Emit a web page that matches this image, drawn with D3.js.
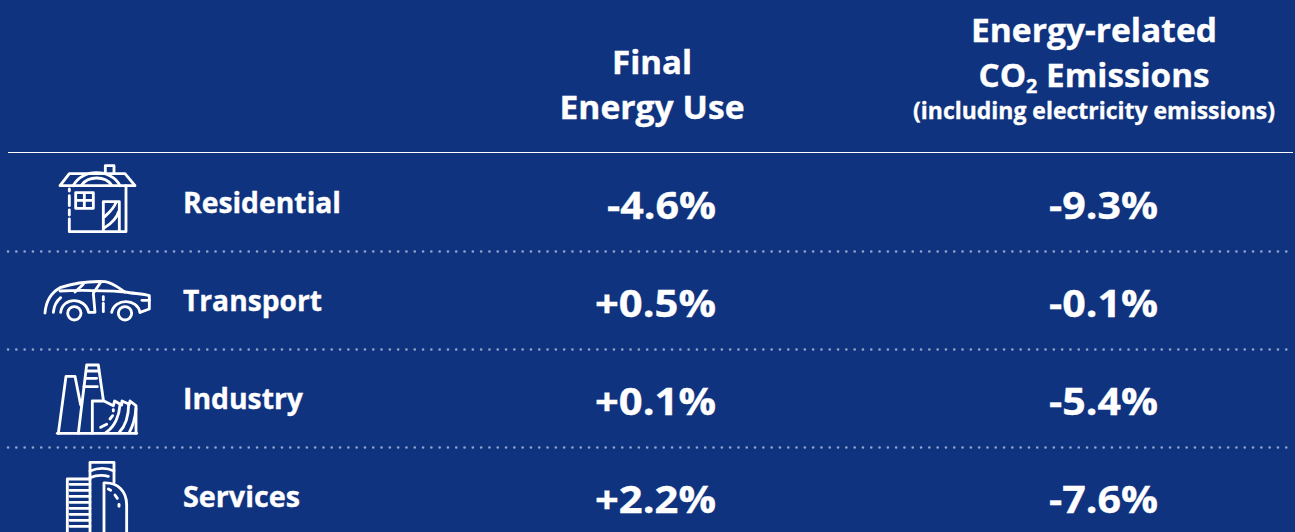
<!DOCTYPE html>
<html><head><meta charset="utf-8">
<script src="https://cdn.jsdelivr.net/npm/d3@7"></script>
<style>html,body{margin:0;padding:0;background:#103380;overflow:hidden}svg{display:block}
text{font-family:"Open Sans","Noto Sans",sans-serif;font-weight:700;fill:#fff;stroke:#fff;stroke-width:.35px}</style>
</head><body><div id="c"></div>
<script>
const categories = ["Residential","Transport","Industry","Services"];
const finalEnergyUse = ["-4.6%","+0.5%","+0.1%","+2.2%"];
const co2Emissions = ["-9.3%","-0.1%","-5.4%","-7.6%"];
const columnKeys = ["energy","co2"];

const W=1295,H=532;
const svg=d3.select("#c").append("svg").attr("width",W).attr("height",H);
svg.append("rect").attr("width",W).attr("height",H).attr("fill","#103380");

const y=d3.scalePoint().domain(categories).range([204,498]);
const x=d3.scalePoint().domain(columnKeys).range([716,1158]);
const rowStep=y.step();

function fit(sel,len){sel.attr("textLength",len).attr("lengthAdjust","spacingAndGlyphs");return sel;}
function t(s,px,py,size,len,anchor="middle"){
  return fit(svg.append("text").attr("x",px).attr("y",py).attr("font-size",size).attr("text-anchor",anchor).text(s),len);
}

// headers
t("Final",652,74,32,80);
t("Energy Use",652,119,32,185);
t("Energy-related",1094,42,32,246);
const co=svg.append("text").attr("x",1094).attr("y",87).attr("font-size",32).attr("text-anchor","middle");
co.append("tspan").text("CO");
co.append("tspan").text("2").attr("font-size",19).attr("dy",6);
co.append("tspan").text(" Emissions").attr("dy",-6);
fit(co,231);
t("(including electricity emissions)",1094,119,24,362);

// rules
svg.append("line").attr("x1",8).attr("x2",1293).attr("y1",152.5).attr("y2",152.5).attr("stroke","#fff").attr("stroke-width",1.2);
svg.selectAll("line.sep").data(categories.slice(1)).join("line").attr("class","sep")
  .attr("x1",8).attr("x2",1293)
  .attr("y1",d=>y(d)-rowStep/2-1.5).attr("y2",d=>y(d)-rowStep/2-1.5)
  .attr("stroke","#8fa3cc").attr("stroke-width",2.6)
  .attr("stroke-linecap","round").attr("stroke-dasharray","0.1 8.2");

// labels and values
const labelWidths=[158,139,120,117];
svg.selectAll("text.cat").data(categories).join("text").attr("class","cat")
  .attr("x",183).attr("y",d=>y(d)+9).attr("font-size",28)
  .attr("textLength",(d,i)=>labelWidths[i]).attr("lengthAdjust","spacingAndGlyphs").text(d=>d);
svg.selectAll("text.v1").data(finalEnergyUse).join("text").attr("class","v1")
  .attr("x",x("energy")).attr("y",(d,i)=>y(categories[i])+15).attr("font-size",37)
  .attr("text-anchor","end").attr("textLength",d=>d[0]==="+"?121:109).attr("lengthAdjust","spacingAndGlyphs").text(d=>d);
svg.selectAll("text.v2").data(co2Emissions).join("text").attr("class","v2")
  .attr("x",x("co2")).attr("y",(d,i)=>y(categories[i])+15).attr("font-size",37)
  .attr("text-anchor","end").attr("textLength",109).attr("lengthAdjust","spacingAndGlyphs").text(d=>d);

// icons (drawn at 3x local units, scaled down)
const icons={
 Residential:{dy:-49,paths:[
  "M60,92 L88,56 H255 L285,92 Z","M196,54 V32 H222 V54",
  "M100,92 C125,40 215,40 240,92","M125,90 C145,62 195,62 215,90",
  "M258,92 V230 H88 V192","M88,102 V108","M88,122 V152","M88,165 V180",
  "M107,113 H160 V160 H107 Z M133,113 V160 M107,136 H160",
  "M190,230 V140 H238 V230","M194,185 C210,170 222,160 228,142","M194,218 C215,205 230,190 236,170"]},
 Transport:{dy:-147,paths:[
  "M15,474 C18,435 35,412 60,398 C100,385 150,378 195,380 C215,382 235,398 255,411 C280,416 310,416 328,422 V462 L300,472",
  "M40,472 C42,450 50,438 62,428","M62,472 C68,425 135,425 146,472 H165 L160,415 L182,382","M215,472 C225,428 292,430 300,472",
  "M60,408 C120,405 180,406 255,411","M105,411 L130,388",
  "M190,425 V435","M190,445 V470","M306,436 H328",
  ],circles:[[103,475,20],[255,475,20]]},
 Industry:{dy:-55,paths:[
  "M52,265 H290","M55,265 L78,94 H105 L122,180",
  "M115,265 L140,60 H175 L190,165",
  "M140,78 H174 M136,100 H170 M132,125 H172",
  "M157,265 V168 H192 L220,182 L224,168 L245,180 L246,168 L268,178 L270,168 L288,182 V265",
  "M198,262 C225,245 238,210 240,180","M238,262 C258,240 266,205 266,176","M268,262 C280,240 286,215 288,190",
  "M182,247 L200,238","M210,222 L218,212","M220,198 V194"]},
 Services:{dy:-153,paths:[
  "M82,580 V402 H150 V580","M90,418 H150 M90,436 H150 M90,454 H150 M90,472 H150 M90,490 H150 M90,508 H150 M90,526 H150 M90,544 H150",
  "M150,402 V352 H222 V412","M150,378 C175,368 200,368 222,378","M150,398 C170,390 190,390 205,394",
  "M192,580 V414 C235,412 260,440 260,480 V580","M205,432 L212,436","M225,450 L232,460","M237,478 V484"]}
};
const iconG=svg.selectAll("g.icon").data(categories).join("g").attr("class","icon")
  .attr("transform",d=>`translate(40,${y(d)+icons[d].dy}) scale(0.3333)`)
  .attr("fill","none").attr("stroke","#fff").attr("stroke-width",8.5)
  .attr("stroke-linejoin","round").attr("stroke-linecap","round");
iconG.each(function(d){
  const g=d3.select(this);
  g.selectAll("path").data(icons[d].paths).join("path").attr("d",p=>p);
  g.selectAll("circle").data(icons[d].circles||[]).join("circle")
   .attr("cx",c=>c[0]).attr("cy",c=>c[1]).attr("r",c=>c[2]);
});
</script></body></html>
